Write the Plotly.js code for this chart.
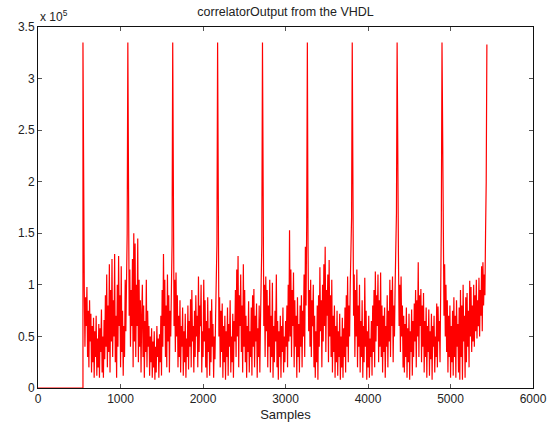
<!DOCTYPE html>
<html>
<head>
<meta charset="utf-8">
<script src="https://cdn.plot.ly/plotly-3.0.1.min.js"></script>
<style>html,body{margin:0;padding:0;background:#fff;}#chart{width:560px;height:429px;}</style>
</head>
<body>
<div id="chart"></div>
<script>
// Samples before the first correlation peak (output is zero)
const leadSamples = [0, 545];
const leadValues = [0, 0];

// Correlator output, in thousands, one value every 8 samples from sample 545
const corrStart = 545;
const corrStep = 8;
const corrK = [
  // segment 1
  335,170,95,40,88,60,98,30,75,20,85,45,72,15,60,25,68,10,55,30,70,12,48,20,62,10,58,35,76,15,50,10,66,28,90,40,110,20,80,35,120,15,95,45,125,30,85,50,130,25,70,10,100,40,128,60,90,20,118,35,75,12,60,30,105,55,130,150,
  // segment 2
  335,160,70,115,40,95,60,125,20,150,45,140,30,100,60,145,25,105,40,85,15,70,100,30,80,10,65,35,105,20,75,40,60,12,50,25,58,10,45,20,55,8,40,15,60,30,48,10,52,25,70,12,95,40,130,60,105,30,80,20,110,45,90,15,75,50,100,140,
  // segment 3
  335,150,60,105,35,112,50,90,20,70,30,85,15,60,40,78,12,55,25,72,10,48,30,80,18,65,40,86,20,95,45,60,15,75,30,90,50,70,20,108,35,80,60,100,15,55,30,105,45,85,20,65,10,88,35,58,12,75,25,86,40,62,10,50,28,70,95,140,
  // segment 4
  335,140,50,88,20,75,35,82,10,60,25,70,8,55,30,78,12,62,40,85,15,50,25,72,10,65,45,95,30,115,50,128,20,90,60,110,35,80,15,120,40,95,25,70,10,60,35,84,15,55,30,78,12,90,40,96,20,70,45,82,10,58,30,80,15,65,100,140,
  // segment 5
  335,150,60,100,30,108,55,95,20,80,40,105,15,70,30,102,10,60,25,75,45,110,20,65,8,55,30,70,10,60,35,78,15,50,25,65,40,80,20,100,45,153,50,115,30,95,60,112,20,85,40,70,10,88,30,62,15,80,40,90,20,75,50,110,30,137,80,160,
  // segment 6
  335,140,55,95,40,105,30,85,60,100,20,70,10,55,25,80,8,90,40,117,55,85,20,100,45,120,60,137,35,95,70,110,25,124,50,90,30,105,15,70,35,80,10,60,25,75,12,55,30,72,8,50,20,68,10,58,30,78,15,90,40,108,25,80,50,100,130,165,
  // segment 7
  335,150,70,110,30,95,50,115,20,80,40,100,15,65,30,85,10,60,25,107,40,75,8,55,20,70,10,48,30,65,12,80,35,95,20,113,45,90,60,110,25,85,40,112,30,80,15,70,35,78,10,60,40,90,20,75,45,105,30,95,60,108,25,80,50,100,140,170,
  // segment 8
  335,180,129,60,100,35,108,50,80,20,70,15,62,30,78,10,58,25,72,8,55,35,76,12,65,30,82,45,95,20,85,50,122,30,90,60,96,25,80,40,92,15,65,30,78,10,60,35,76,12,55,28,72,8,60,40,70,15,50,30,82,20,79,45,65,25,90,160,
  // segment 9
  335,200,136,70,120,50,100,35,85,15,70,30,80,10,60,25,75,12,88,30,70,10,85,40,62,15,78,8,95,30,80,8,100,45,70,10,88,25,92,40,75,20,104,50,98,35,80,45,100,40,90,55,105,48,85,60,107,50,95,70,118,55,122,80,110,90,150,200,
  // last peak
  333
];

const yTickVals = [0, 50000, 100000, 150000, 200000, 250000, 300000, 350000];
const yTickText = ['0', '0.5', '1', '1.5', '2', '2.5', '3', '3.5'];
const xTickVals = [0, 1000, 2000, 3000, 4000, 5000, 6000];

const xs = leadSamples.slice();
const ys = leadValues.slice();
corrK.forEach((v, i) => { xs.push(corrStart + i * corrStep); ys.push(v * 1000); });

const font = 'Liberation Sans, Arial, Helvetica, sans-serif';

Plotly.newPlot('chart', [{
  x: xs, y: ys, type: 'scatter', mode: 'lines',
  line: {color: '#ff0000', width: 1.2},
  hoverinfo: 'none'
}], {
  width: 560, height: 429,
  margin: {l: 38, r: 27, t: 27, b: 41, pad: 0},
  paper_bgcolor: '#ffffff', plot_bgcolor: '#ffffff',
  showlegend: false,
  font: {family: font, color: '#222', size: 12},
  title: {text: 'correlatorOutput from the VHDL', font: {family: font, size: 12.5, color: '#222'},
          x: 0.5, xref: 'paper', y: 1 - 12/429, yref: 'container', yanchor: 'middle'},
  xaxis: {
    range: [0, 6000], tickvals: xTickVals, ticktext: xTickVals.map(String),
    showgrid: false, zeroline: false,
    showline: true, linecolor: '#111', linewidth: 1, mirror: 'ticks',
    ticks: 'inside', ticklen: 4, tickcolor: '#555',
    tickfont: {family: font, size: 12, color: '#222'},
    title: {text: 'Samples', font: {family: font, size: 13, color: '#222'}, standoff: 4}
  },
  yaxis: {
    range: [0, 350000], tickvals: yTickVals, ticktext: yTickText,
    showgrid: false, zeroline: false,
    showline: true, linecolor: '#111', linewidth: 1, mirror: 'ticks',
    ticks: 'inside', ticklen: 4, tickcolor: '#555',
    tickfont: {family: font, size: 12, color: '#222'}
  },
  annotations: [{
    text: 'x 10<sup>5</sup>', xref: 'paper', yref: 'paper', x: 0, y: 1,
    xanchor: 'left', yanchor: 'bottom', showarrow: false, yshift: 1,
    font: {family: font, size: 12, color: '#222'}
  }]
}, {displayModeBar: false, staticPlot: true});
</script>
</body>
</html>
